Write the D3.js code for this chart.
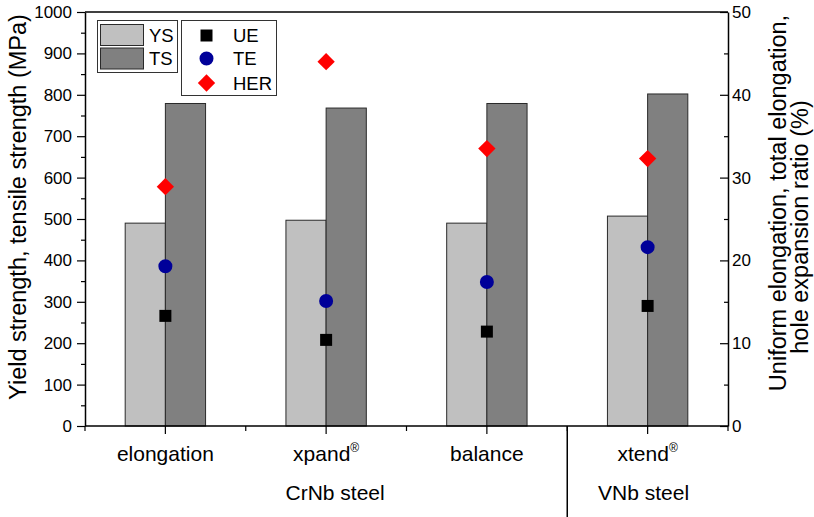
<!DOCTYPE html>
<html>
<head>
<meta charset="utf-8">
<script src="https://cdn.jsdelivr.net/npm/d3@7"></script>
<style>
  html, body { margin: 0; padding: 0; background: #fff; }
  svg { display: block; font-family: "Liberation Sans", Arial, sans-serif; }
</style>
</head>
<body>
<svg id="chart" width="814" height="517"></svg>
<script>
// Steel grades and their mechanical properties
const categories = ["elongation", "xpand", "balance", "xtend"];
const registered = [false, true, false, true];
const ysValues = [490, 497, 490, 507];    // yield strength, MPa
const tsValues = [779, 768, 779, 802];    // tensile strength, MPa
const ueValues = [13.3, 10.4, 11.4, 14.5]; // uniform elongation, %
const teValues = [19.3, 15.1, 17.4, 21.6]; // total elongation, %
const herValues = [28.9, 44.0, 33.5, 32.3]; // hole expansion ratio, %
const leftTicks = [0, 100, 200, 300, 400, 500, 600, 700, 800, 900, 1000];
const rightTicks = [0, 10, 20, 30, 40, 50];
const groupNames = ["CrNb steel", "VNb steel"];
const groupMembers = [["elongation", "xpand", "balance"], ["xtend"]];

const svg = d3.select("#chart");
const plotL = 85, plotR = 728, plotT = 12, plotB = 426;

const x = d3.scaleBand().domain(categories).range([plotL, plotR]).padding(0);
const xSub = d3.scaleBand().domain(["YS", "TS"]).range([0, x.bandwidth()])
  .paddingInner(0).paddingOuter(1);
const yL = d3.scaleLinear().domain([0, 1000]).range([plotB, plotT]);
const yR = d3.scaleLinear().domain([0, 50]).range([plotB, plotT]);

const fills = { YS: "#c0c0c0", TS: "#808080" };

// Bars
const barData = [];
categories.forEach((c, i) => {
  barData.push({ c, key: "YS", v: ysValues[i] });
  barData.push({ c, key: "TS", v: tsValues[i] });
});
svg.append("g").selectAll("rect").data(barData).join("rect")
  .attr("x", d => x(d.c) + xSub(d.key))
  .attr("y", d => yL(d.v))
  .attr("width", xSub.bandwidth())
  .attr("height", d => yL(0) - yL(d.v))
  .attr("fill", d => fills[d.key])
  .attr("stroke", "#2a2a2a")
  .attr("stroke-width", 1);

// Axes
const axisStyle = g => {
  g.selectAll(".domain").attr("stroke", "#000").attr("stroke-width", 1.5);
  g.selectAll(".tick line").attr("stroke", "#000").attr("stroke-width", 1.2);
  g.selectAll(".tick text").attr("fill", "#000")
    .style("font-family", "'Liberation Sans', Arial, sans-serif").style("font-size", "17px");
};
const intFmt = d3.format("d");

// left minor ticks
svg.append("g").attr("transform", `translate(${plotL},0)`)
  .call(d3.axisLeft(yL).tickValues(d3.range(50, 1000, 100)).tickSize(4).tickFormat(""))
  .call(g => g.select(".domain").remove())
  .call(axisStyle);
svg.append("g").attr("transform", `translate(${plotL},0)`)
  .call(d3.axisLeft(yL).tickValues(leftTicks).tickFormat(intFmt)
    .tickSize(8).tickSizeOuter(0).tickPadding(5))
  .call(axisStyle);

// right axis, ticks pointing inward
svg.append("g").attr("transform", `translate(${plotR},0)`)
  .call(d3.axisRight(yR).tickValues(d3.range(5, 50, 10)).tickSize(-4).tickFormat(""))
  .call(g => g.select(".domain").remove())
  .call(axisStyle);
svg.append("g").attr("transform", `translate(${plotR},0)`)
  .call(d3.axisRight(yR).tickValues(rightTicks).tickFormat(intFmt)
    .tickSizeInner(-8).tickSizeOuter(0).tickPadding(4))
  .call(axisStyle);

// top frame
svg.append("line").attr("x1", plotL).attr("x2", plotR).attr("y1", plotT).attr("y2", plotT)
  .attr("stroke", "#000").attr("stroke-width", 1.5);

// bottom axis: major ticks at categories, minor at category boundaries
const xBottom = svg.append("g").attr("transform", `translate(0,${plotB})`);
xBottom.append("line").attr("x1", plotL).attr("x2", plotR)
  .attr("stroke", "#000").attr("stroke-width", 1.5);
const boundaries = categories.map(c => x(c)).concat([x.range()[1]]);
xBottom.selectAll("line.minor").data(boundaries).join("line").attr("class", "minor")
  .attr("x1", d => d).attr("x2", d => d).attr("y1", 0).attr("y2", 5)
  .attr("stroke", "#000").attr("stroke-width", 1.2);
xBottom.selectAll("line.major").data(categories).join("line").attr("class", "major")
  .attr("x1", d => x(d) + x.bandwidth() / 2).attr("x2", d => x(d) + x.bandwidth() / 2)
  .attr("y1", 0).attr("y2", 8)
  .attr("stroke", "#000").attr("stroke-width", 1.2);

// category labels
const catLabels = svg.append("g").selectAll("text").data(categories).join("text")
  .attr("x", d => x(d) + x.bandwidth() / 2)
  .attr("y", 461)
  .attr("text-anchor", "middle")
  .style("font-size", "21px")
  .attr("fill", "#000");
catLabels.append("tspan").text(d => d);
catLabels.filter((d, i) => registered[i]).append("tspan")
  .attr("dy", -9).style("font-size", "12px").text("®");

// group labels and divider
const groupCenter = m => d3.mean(m, c => x(c) + x.bandwidth() / 2);
svg.append("g").selectAll("text").data(groupNames).join("text")
  .attr("x", (d, i) => groupCenter(groupMembers[i]) + (i === 0 ? 9 : -4))
  .attr("y", 500)
  .attr("text-anchor", "middle")
  .style("font-size", "21px")
  .attr("fill", "#000")
  .text(d => d);
const divX = x(groupMembers[1][0]);
svg.append("line").attr("x1", divX).attr("x2", divX).attr("y1", plotB).attr("y2", 517)
  .attr("stroke", "#000").attr("stroke-width", 1.5);

// axis titles
svg.append("text")
  .attr("transform", `translate(26,${(plotT + plotB) / 2 - 12}) rotate(-90)`)
  .attr("text-anchor", "middle")
  .style("font-size", "23.5px")
  .attr("fill", "#000")
  .text("Yield strength, tensile strength (MPa)");
const rt = svg.append("g");
rt.append("text")
  .attr("transform", `translate(786,203) rotate(-90)`)
  .attr("text-anchor", "middle")
  .style("font-size", "23.5px").attr("fill", "#000")
  .text("Uniform elongation, total elongation,");
rt.append("text")
  .attr("transform", `translate(808,227) rotate(-90)`)
  .attr("text-anchor", "middle")
  .style("font-size", "23.5px").attr("fill", "#000")
  .text("hole expansion ratio (%)");

// point series on the right axis
const symSquare = d3.symbol().type(d3.symbolSquare).size(144);
const symCircle = d3.symbol().type(d3.symbolCircle).size(154);
const symDiamond = d3.symbol().type(d3.symbolSquare).size(150);
const pointSeries = [
  { name: "UE", values: ueValues, path: symSquare(), color: "#000000", rot: 0 },
  { name: "TE", values: teValues, path: symCircle(), color: "#000099", rot: 0 },
  { name: "HER", values: herValues, path: symDiamond(), color: "#ff0000", rot: 45 }
];
pointSeries.forEach(s => {
  svg.append("g").selectAll("path").data(s.values).join("path")
    .attr("d", s.path)
    .attr("transform", (d, i) => `translate(${x(categories[i]) + x.bandwidth() / 2},${yR(d)}) rotate(${s.rot})`)
    .attr("fill", s.color);
});

// legend: bars
const lg1 = svg.append("g");
lg1.append("rect").attr("x", 97.5).attr("y", 20.5).attr("width", 80).attr("height", 52)
  .attr("fill", "#fff").attr("stroke", "#333").attr("stroke-width", 1);
["YS", "TS"].forEach((k, i) => {
  lg1.append("rect").attr("x", 100.5).attr("y", 24.5 + i * 23.5).attr("width", 43).attr("height", 21)
    .attr("fill", fills[k]).attr("stroke", "#2a2a2a").attr("stroke-width", 1);
  lg1.append("text").attr("x", 149).attr("y", 42 + i * 23).style("font-size", "18.5px")
    .attr("fill", "#000").text(k);
});

// legend: points
const lg2 = svg.append("g");
lg2.append("rect").attr("x", 181.5).attr("y", 20.5).attr("width", 95).attr("height", 75)
  .attr("fill", "#fff").attr("stroke", "#333").attr("stroke-width", 1);
const legendRowsY = [35.5, 58.5, 83];
pointSeries.forEach((s, i) => {
  lg2.append("path").attr("d", s.path)
    .attr("transform", `translate(206.5,${legendRowsY[i]}) rotate(${s.rot})`)
    .attr("fill", s.color);
  lg2.append("text").attr("x", 233).attr("y", legendRowsY[i] + 6.5).style("font-size", "18.5px")
    .attr("fill", "#000").text(s.name);
});
</script>
</body>
</html>
